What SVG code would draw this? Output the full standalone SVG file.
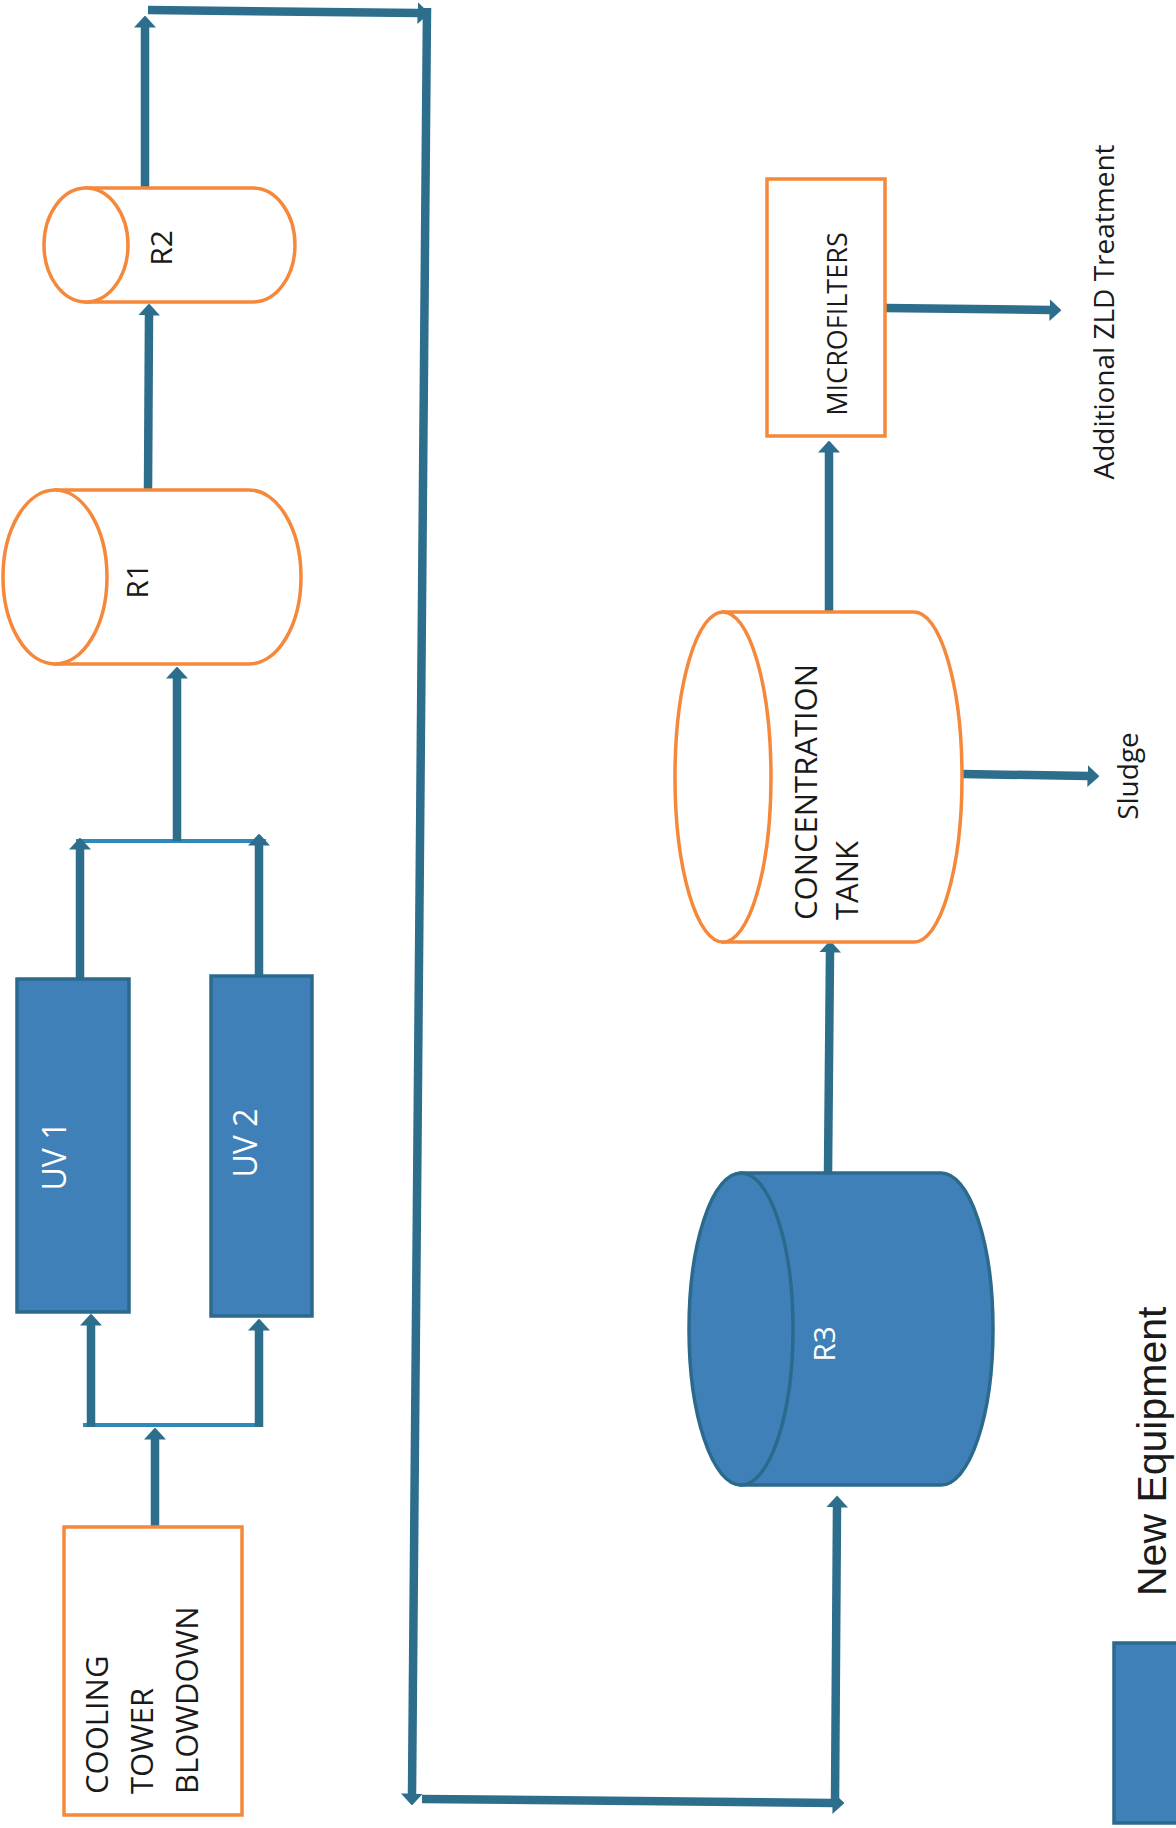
<svg xmlns="http://www.w3.org/2000/svg" width="1176" height="1828" viewBox="0 0 1176 1828">
<style>
.bg{fill:#ffffff}
.orange{fill:#ffffff;stroke:#F5883A;stroke-width:3.5}
.blue{fill:#3F80B8;stroke:#2B6A8D;stroke-width:3.5}
.pipe{fill:none;stroke:#2C6E8C;stroke-width:8.5}
.thin{fill:none;stroke:#2F88BA;stroke-width:4}
.lbl{font-family:"Open Sans","Liberation Sans",sans-serif;fill:#1a1a1a}
.wlbl{font-family:"Open Sans","Liberation Sans",sans-serif;fill:#ffffff}
</style>
<defs>
<marker id="ah" markerUnits="userSpaceOnUse" viewBox="0 0 12 22" markerWidth="12" markerHeight="22" refX="0.5" refY="11" orient="auto">
<path d="M0,0 L12,11 L0,22 Z" fill="#2C6E8C"/>
</marker>
</defs>
<rect class="bg" x="0" y="0" width="1176" height="1828"/>

<g id="connectors">
<line class="thin" x1="83" y1="1425" x2="263" y2="1425"/>
<line class="thin" x1="76" y1="841" x2="266" y2="841"/>
<line class="pipe" x1="155" y1="1527" x2="155" y2="1439" marker-end="url(#ah)"/>
<line class="pipe" x1="91" y1="1427" x2="91" y2="1325" marker-end="url(#ah)"/>
<line class="pipe" x1="259" y1="1427" x2="259" y2="1330" marker-end="url(#ah)"/>
<line class="pipe" x1="80" y1="979" x2="80" y2="849" marker-end="url(#ah)"/>
<line class="pipe" x1="259" y1="975" x2="259" y2="845" marker-end="url(#ah)"/>
<line class="pipe" x1="177" y1="841" x2="177" y2="678" marker-end="url(#ah)"/>
<line class="pipe" x1="148" y1="490" x2="149" y2="315" marker-end="url(#ah)"/>
<line class="pipe" x1="145" y1="187" x2="145" y2="27" marker-end="url(#ah)"/>
<line class="pipe" x1="148" y1="10" x2="418" y2="13" marker-end="url(#ah)"/>
<line class="pipe" x1="427" y1="8" x2="412" y2="1794" marker-end="url(#ah)"/>
<line class="pipe" x1="422" y1="1799" x2="833" y2="1803" marker-end="url(#ah)"/>
<line class="pipe" x1="835" y1="1804" x2="837" y2="1507" marker-end="url(#ah)"/>
<line class="pipe" x1="828" y1="1173" x2="830" y2="952" marker-end="url(#ah)"/>
<line class="pipe" x1="829" y1="612" x2="829" y2="452" marker-end="url(#ah)"/>
<line class="pipe" x1="885" y1="308" x2="1050" y2="310" marker-end="url(#ah)"/>
<line class="pipe" x1="963" y1="774" x2="1088" y2="776" marker-end="url(#ah)"/>
</g>

<g id="cooling-tower">
<rect class="orange" x="64" y="1527" width="178" height="288"/>
<text class="lbl" font-size="31" transform="translate(108,1794) rotate(-90)">COOLING</text>
<text class="lbl" font-size="31" transform="translate(153,1794) rotate(-90)">TOWER</text>
<text class="lbl" font-size="31" transform="translate(198,1794) rotate(-90)">BLOWDOWN</text>
</g>

<g id="uv1">
<rect class="blue" x="17" y="979" width="112" height="333"/>
<text class="wlbl" font-size="32" text-anchor="middle" transform="translate(66,1156) rotate(-90)">UV 1</text>
</g>

<g id="uv2">
<rect class="blue" x="211" y="976" width="101" height="340"/>
<text class="wlbl" font-size="32" text-anchor="middle" transform="translate(257,1143) rotate(-90)">UV 2</text>
</g>

<g id="r1">
<path class="orange" d="M55,490 L249,490 A52,87 0 0 1 249,664 L55,664 Z"/>
<ellipse class="orange" cx="55" cy="577" rx="52" ry="87"/>
<text class="lbl" font-size="30" text-anchor="middle" transform="translate(148,581) rotate(-90)">R1</text>
</g>

<g id="r2">
<path class="orange" d="M86,188 L253,188 A42,57 0 0 1 253,302 L86,302 Z"/>
<ellipse class="orange" cx="86" cy="245" rx="42" ry="57"/>
<text class="lbl" font-size="30" text-anchor="middle" transform="translate(172,248) rotate(-90)">R2</text>
</g>

<g id="r3">
<path class="blue" d="M741,1173 L941,1173 A52,156 0 0 1 941,1485 L741,1485 Z"/>
<ellipse class="blue" cx="741" cy="1329" rx="52" ry="156"/>
<text class="wlbl" font-size="30" text-anchor="middle" transform="translate(835,1344) rotate(-90)">R3</text>
</g>

<g id="concentration-tank">
<path class="orange" d="M723,612 L914,612 A48,165 0 0 1 914,942 L723,942 Z"/>
<ellipse class="orange" cx="723" cy="777" rx="48" ry="165"/>
<text class="lbl" font-size="31" transform="translate(817,920) rotate(-90)">CONCENTRATION</text>
<text class="lbl" font-size="31" transform="translate(858,920) rotate(-90)">TANK</text>
</g>

<g id="microfilters">
<rect class="orange" x="767" y="179" width="118" height="257"/>
<text class="lbl" font-size="27" text-anchor="middle" transform="translate(847,324) rotate(-90)">MICROFILTERS</text>
</g>

<g id="sludge">
<text class="lbl" font-size="28" text-anchor="middle" transform="translate(1138,776) rotate(-90)">Sludge</text>
</g>

<g id="zld">
<text class="lbl" font-size="28" text-anchor="middle" transform="translate(1114,312) rotate(-90)">Additional ZLD Treatment</text>
</g>

<g id="legend">
<rect class="blue" x="1114" y="1643" width="70" height="180"/>
<text font-family="Liberation Sans, Arial, sans-serif" font-size="41" fill="#1a1a1a" transform="translate(1166,1596) rotate(-90)">New Equipment</text>
</g>
</svg>
